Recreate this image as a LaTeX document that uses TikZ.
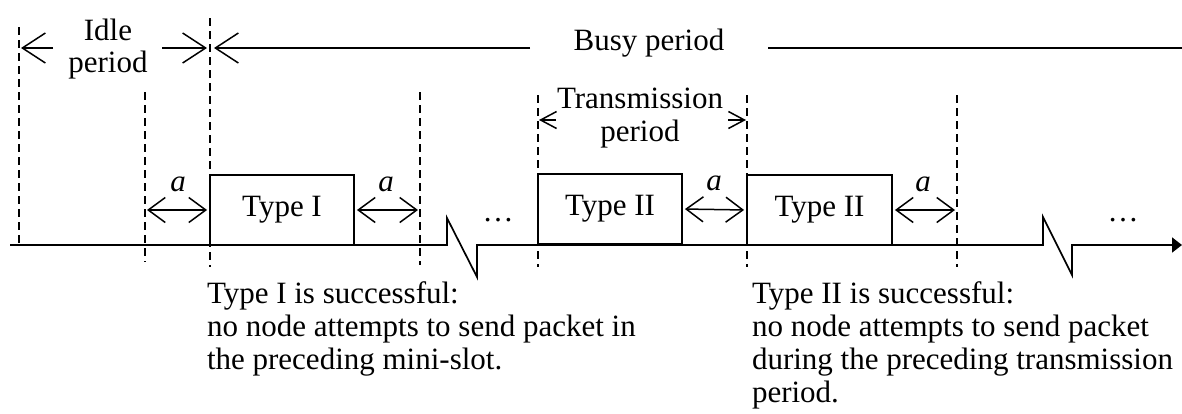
\documentclass[tikz,border=0pt]{standalone}
\usepackage{fontspec}
\setmainfont{Liberation Serif}
\usetikzlibrary{arrows.meta}
\begin{document}
\begin{tikzpicture}[x=1pt,y=-1pt,
  txt/.style={font=\fontsize{31}{33}\selectfont, inner sep=0pt, outer sep=0pt},
  alabel/.style={font=\fontsize{31}{33}\selectfont\itshape, inner sep=0pt},
  guide/.style={line width=1.5pt, dash pattern=on 8pt off 5pt},
  pkt/.style={draw, line width=1.9pt, minimum width=144pt, minimum height=70pt,
    inner sep=0pt, font=\fontsize{31}{33}\selectfont},
  timeline/.style={line width=1.7pt, line join=miter},
  plain/.style={line width=1.6pt},
  gaparrow/.style={line width=1.5pt, shorten <=2pt, shorten >=2pt,
    {Straight Barb[length=17pt,width=25pt]}-{Straight Barb[length=17pt,width=25pt]}},
  bighead/.style={line width=1.5pt, -{Straight Barb[length=23pt,width=30pt]}},
  smallhead/.style={line width=1.5pt, -{Straight Barb[length=16pt,width=17pt]}}
]
\useasboundingbox (0,0) rectangle (1182,413);

% vertical dashed guides
\coordinate (g0t) at (19,27);   \coordinate (g0b) at (19,245);
\coordinate (g1t) at (145,92);  \coordinate (g1b) at (145,262);
\coordinate (g2t) at (210,18);  \coordinate (g2b) at (210,267);
\coordinate (g3t) at (420,92);  \coordinate (g3b) at (420,265);
\coordinate (g4t) at (538,95);  \coordinate (g4b) at (538,267);
\coordinate (g5t) at (747,95);  \coordinate (g5b) at (747,267);
\coordinate (g6t) at (957,95);  \coordinate (g6b) at (957,267);
\foreach \g in {0,...,6} \draw[guide] (g\g t) -- (g\g b);

% time axis with two breaks
\coordinate (ax0) at (10,245);
\coordinate (z1a) at (447,245); \coordinate (z1b) at (447,218);
\coordinate (z1c) at (477,277); \coordinate (z1d) at (477,245);
\coordinate (z2a) at (1043,245); \coordinate (z2b) at (1043,217);
\coordinate (z2c) at (1072,275); \coordinate (z2d) at (1072,245);
\coordinate (ax1) at (1182,245);
\draw[timeline, -{Triangle[length=10pt,width=15pt]}]
  (ax0) -- (z1a) -- (z1b) -- (z1c) -- (z1d) -- (z2a) -- (z2b) -- (z2c) -- (z2d) -- (ax1);

% packets
\node[pkt] (p1) at (282,210) {Type I};
\node[pkt] (p2) at (610,209) {Type II};
\node[pkt, minimum width=145pt] (p3) at (819.5,210) {Type II};

% mini-slot gaps
\draw[gaparrow] (g1t |- p1.west) -- (p1.west);
\draw[gaparrow] (p1.east) -- (g3t |- p1.east);
\draw[gaparrow] (p2.east) -- (p3.west);
\draw[gaparrow] (p3.east) -- (g6t |- p3.east);
\node[alabel] (a1) at (178,184) {a};
\node[alabel] (a2) at (386,184) {a};
\node[alabel] (a3) at (714,183) {a};
\node[alabel] (a4) at (923,184) {a};

\node[txt, anchor=base] (dots1) at (498,221) {\dots};
\node[txt, anchor=base] (dots2) at (1123,221) {\dots};

% idle period
\node[txt, anchor=base] (idle1) at (108,40) {Idle};
\node[txt, anchor=base] (idle2) at (108,72) {period};
\coordinate (ia) at (53,48);
\coordinate (ib) at (162,48);
\draw[bighead, shorten >=2pt] (ia) -- (g0t |- ia);
\draw[bighead, shorten >=3pt] (ib) -- (g2t |- ib);

% busy period
\node[txt, anchor=base] (busy) at (649,50) {Busy period};
\coordinate (bl) at (530,48);
\coordinate (br) at (768,48);
\coordinate (bend) at (1182,48);
\draw[bighead, shorten >=4pt] (bl) -- (g2t |- bl);
\draw[plain] (br) -- (bend);

% transmission period
\node[txt, anchor=base] (tr1) at (640,108) {Transmission};
\node[txt, anchor=base] (tr2) at (640,141) {period};
\coordinate (ta) at (556,120);
\coordinate (tb) at (728,120);
\draw[smallhead, shorten >=1pt] (ta) -- (g4t |- ta);
\draw[smallhead, shorten >=1pt] (tb) -- (g5t |- tb);

% outcome notes
\node[txt, anchor=base west] (n1a) at (207,303) {Type I is successful:};
\node[txt, anchor=base west] (n1b) at (207,336) {no node attempts to send packet in};
\node[txt, anchor=base west] (n1c) at (207,369) {the preceding mini-slot.};
\node[txt, anchor=base west] (n2a) at (752,303) {Type II is successful:};
\node[txt, anchor=base west] (n2b) at (752,336) {no node attempts to send packet};
\node[txt, anchor=base west] (n2c) at (752,369) {during the preceding transmission};
\node[txt, anchor=base west] (n2d) at (752,402) {period.};
\end{tikzpicture}
\end{document}
